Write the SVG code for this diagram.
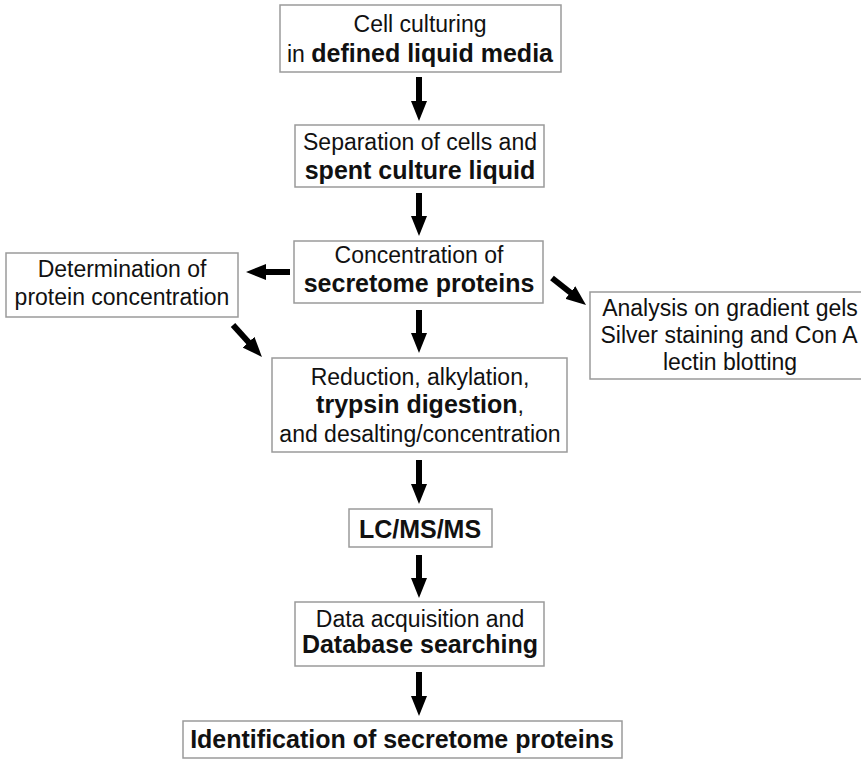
<svg xmlns="http://www.w3.org/2000/svg" width="861" height="759" viewBox="0 0 861 759">
<defs>
<style>
.box{fill:#fff;stroke:#9a9a9a;stroke-width:1.5}
text{font-family:"Liberation Sans",Arial,sans-serif;fill:#111;text-anchor:middle}
.r{font-size:23px}
.b{font-size:25px;font-weight:bold}
.xb{font-size:25px;font-weight:bold}
.arr{stroke:#000;stroke-width:6;fill:none;marker-end:url(#ah)}
</style>
<marker id="ah" markerUnits="userSpaceOnUse" markerWidth="20" markerHeight="16" refX="8" refY="8" orient="auto">
<path d="M0,0 L20,8 L0,16 z" fill="#000"/>
</marker>
</defs>
<rect width="861" height="759" fill="#fff"/>
<g id="n1"><rect class="box" x="280" y="5" width="281" height="67"/>
<text class="r" x="420" y="32">Cell culturing</text>
<text x="420" y="62"><tspan class="r">in </tspan><tspan class="b">defined liquid media</tspan></text></g>
<g id="n2"><rect class="box" x="295" y="125" width="249" height="62"/>
<text class="r" x="420" y="150">Separation of cells and</text>
<text class="b" x="420" y="179">spent culture liquid</text></g>
<g id="n3"><rect class="box" x="294" y="241" width="249" height="62"/>
<text class="r" x="419" y="263">Concentration of</text>
<text class="b" x="419" y="292">secretome proteins</text></g>
<g id="n4"><rect class="box" x="6" y="253" width="232" height="64"/>
<text class="r" x="122" y="277">Determination of</text>
<text class="r" x="122" y="305">protein concentration</text></g>
<g id="n5"><rect class="box" x="590" y="292" width="280" height="87"/>
<text class="r" x="730" y="316">Analysis on gradient gels</text>
<text class="r" x="729" y="343">Silver staining and Con A</text>
<text class="r" x="730" y="370">lectin blotting</text></g>
<g id="n6"><rect class="box" x="272" y="358" width="295" height="94"/>
<text class="r" x="420" y="385">Reduction, alkylation,</text>
<text x="420" y="413"><tspan class="b">trypsin digestion</tspan><tspan class="r">,</tspan></text>
<text class="r" x="420" y="442">and desalting/concentration</text></g>
<g id="n7"><rect class="box" x="349" y="509" width="143" height="38"/>
<text class="b" x="420" y="538">LC/MS/MS</text></g>
<g id="n8"><rect class="box" x="295" y="602" width="249" height="64"/>
<text class="r" x="420" y="627">Data acquisition and</text>
<text class="b" x="420" y="653">Database searching</text></g>
<g id="n9"><rect class="box" x="183" y="721" width="439" height="37"/>
<text class="xb" x="402" y="748">Identification of secretome proteins</text></g>
<g id="connectors">
<line class="arr" x1="419" y1="77" x2="419" y2="109"/>
<line class="arr" x1="419" y1="193" x2="419" y2="224"/>
<line class="arr" x1="419" y1="310" x2="419" y2="341"/>
<line class="arr" x1="419" y1="460" x2="419" y2="492"/>
<line class="arr" x1="419" y1="555" x2="419" y2="586"/>
<line class="arr" x1="419" y1="672" x2="419" y2="704"/>
<line class="arr" x1="290" y1="272" x2="258" y2="272"/>
<line class="arr" x1="233" y1="325" x2="253.9" y2="348.1"/>
<line class="arr" x1="552" y1="278" x2="576.6" y2="297.5"/>
</g>
</svg>
